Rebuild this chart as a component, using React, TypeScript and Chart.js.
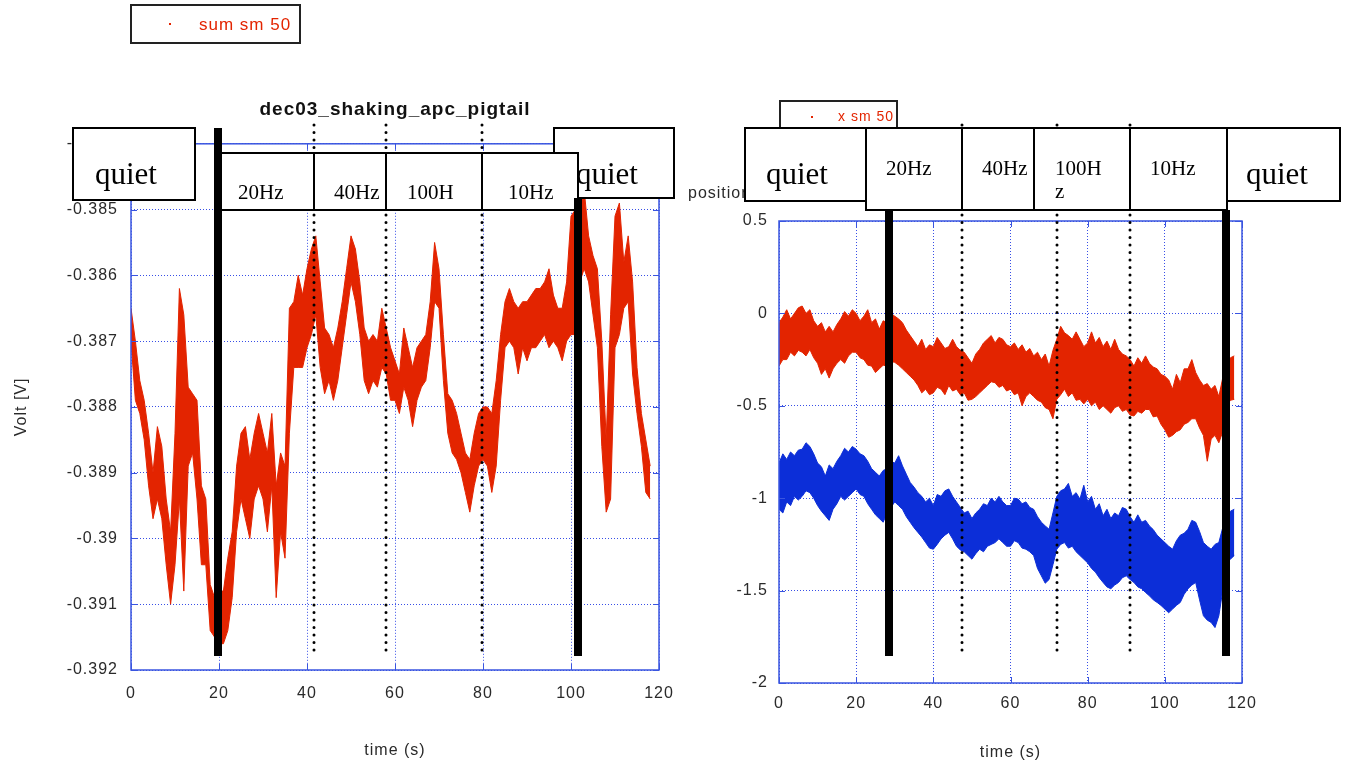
import React, { useEffect, useRef } from 'react';
import { Chart, registerables } from 'chart.js';

Chart.register(...registerables);

// ---------- data ----------
// one envelope sample (upper / lower edge of the trace) per second
const TIME_S = Array.from({ length: 119 }, (_, i) => i);

// "sum sm 50" signal, millivolts
const SUM_HI_MV = [
  -386.5, -387.0, -387.6, -387.9, -388.4, -389.0, -388.3, -388.6, -389.4, -389.9,
  -388.4, -386.2, -386.6, -387.7, -387.8, -387.9, -389.2, -389.4, -390.7, -390.9,
  -390.8, -390.8, -390.3, -389.9, -388.9, -388.4, -388.3, -388.8, -388.4, -388.1,
  -388.4, -388.7, -388.1, -389.2, -388.7, -388.9, -386.5, -386.4, -386.0, -386.3,
  -385.9, -385.6, -385.4, -386.1, -386.8, -386.9, -387.1, -386.8, -386.4, -385.9,
  -385.4, -385.6, -386.1, -386.8, -387.0, -386.9, -387.0, -386.5, -386.8, -387.1,
  -387.3, -387.5, -386.8, -387.1, -387.4, -387.1, -387.0, -386.9, -386.4, -385.5,
  -385.9, -386.9, -387.8, -387.9, -388.1, -388.4, -388.7, -388.8, -388.4, -388.1,
  -388.0, -388.0, -388.1, -387.6, -386.9, -386.4, -386.2, -386.4, -386.5, -386.4,
  -386.4, -386.3, -386.2, -386.2, -386.1, -385.9, -386.3, -386.5, -386.5, -386.1,
  -385.1, -385.0, -384.8, -384.7, -385.4, -385.7, -385.9, -387.0, -388.5, -386.6,
  -385.1, -384.9, -385.8, -385.4, -386.1, -387.4, -388.1, -388.5, -388.9,
];
const SUM_LO_MV = [
  -387.0, -387.9, -388.1, -388.5, -389.2, -389.7, -389.4, -389.7, -390.4, -391.0,
  -390.4, -389.4, -390.8, -388.9, -388.7, -389.4, -390.4, -390.4, -391.4, -391.5,
  -391.6, -391.6, -391.4, -390.9, -389.9, -389.4, -389.7, -390.0, -389.4, -389.2,
  -389.4, -389.9, -389.2, -390.9, -389.9, -390.3, -388.4, -387.4, -387.4, -387.4,
  -387.1, -386.9, -386.6, -387.4, -387.8, -387.6, -387.9, -387.6, -387.1, -386.6,
  -386.1, -386.4, -386.9, -387.6, -387.8, -387.6, -387.7, -387.4, -387.5, -387.9,
  -387.9, -388.1, -387.7, -387.9, -388.3, -387.9, -387.7, -387.6, -387.1, -386.4,
  -386.5, -387.6, -388.4, -388.7, -388.8, -389.0, -389.3, -389.6, -389.2, -388.9,
  -388.8, -388.9, -389.3, -388.9, -387.9, -387.1, -387.0, -387.1, -387.5, -387.1,
  -387.3, -387.1, -387.1, -387.0, -386.9, -387.1, -387.0, -387.1, -387.3, -387.0,
  -386.9, -386.9, -386.1, -385.9, -386.1, -386.6, -387.1, -388.6, -389.6, -389.4,
  -387.1, -386.9, -386.5, -386.4, -387.5, -388.1, -388.6, -389.3, -389.4,
];

// position traces ("x sm 50" in red, second channel in blue)
const POS_RED_HI = [
  -0.05, -0.02, 0.02, -0.03, 0.0, 0.03, 0.04, 0.0, 0.02, -0.04,
  -0.07, -0.05, -0.10, -0.07, -0.10, -0.06, -0.03, 0.01, -0.015, 0.02,
  0.0, -0.04, -0.015, 0.02, -0.05, -0.03, -0.085, -0.04, -0.05, 0.0,
  -0.015, -0.03, -0.05, -0.09, -0.12, -0.15, -0.18, -0.14, -0.195, -0.17,
  -0.18, -0.13, -0.16, -0.19, -0.18, -0.14, -0.18, -0.20, -0.21, -0.24,
  -0.27, -0.22, -0.195, -0.16, -0.14, -0.12, -0.16, -0.13, -0.14, -0.17,
  -0.18, -0.16, -0.195, -0.17, -0.21, -0.19, -0.23, -0.21, -0.25, -0.22,
  -0.285, -0.20, -0.14, -0.07, -0.105, -0.12, -0.14, -0.10, -0.14, -0.18,
  -0.16, -0.10, -0.16, -0.13, -0.18, -0.15, -0.195, -0.14, -0.195, -0.22,
  -0.23, -0.25, -0.285, -0.24, -0.27, -0.23, -0.27, -0.29, -0.30, -0.33,
  -0.34, -0.36, -0.41, -0.33, -0.375, -0.30, -0.30, -0.25, -0.32, -0.36,
  -0.39, -0.38, -0.41, -0.39, -0.45, -0.35, -0.27, -0.24, -0.23,
];
const POS_RED_LO = [
  -0.285, -0.25, -0.25, -0.21, -0.23, -0.20, -0.21, -0.23, -0.195, -0.24,
  -0.27, -0.33, -0.30, -0.35, -0.30, -0.27, -0.25, -0.27, -0.23, -0.21,
  -0.21, -0.24, -0.25, -0.28, -0.285, -0.32, -0.30, -0.28, -0.285, -0.26,
  -0.265, -0.28, -0.30, -0.32, -0.34, -0.36, -0.39, -0.43, -0.41, -0.44,
  -0.43, -0.40, -0.41, -0.44, -0.39, -0.42, -0.41, -0.44, -0.43, -0.47,
  -0.465, -0.45, -0.43, -0.41, -0.39, -0.37, -0.375, -0.40, -0.39, -0.42,
  -0.41, -0.44, -0.43, -0.50, -0.45, -0.43, -0.45, -0.47, -0.48, -0.51,
  -0.52, -0.57, -0.465, -0.44, -0.41, -0.45, -0.43, -0.47, -0.465, -0.49,
  -0.465, -0.50, -0.48, -0.52, -0.50, -0.52, -0.54, -0.51, -0.50, -0.53,
  -0.52, -0.55, -0.555, -0.53, -0.54, -0.52, -0.52, -0.56, -0.555, -0.60,
  -0.63, -0.67, -0.66, -0.64, -0.63, -0.60, -0.59, -0.57, -0.57, -0.62,
  -0.66, -0.80, -0.68, -0.66, -0.70, -0.64, -0.50, -0.47, -0.465,
];
const POS_BLUE_HI = [
  -0.81, -0.76, -0.79, -0.75, -0.77, -0.74, -0.735, -0.70, -0.72, -0.76,
  -0.81, -0.83, -0.88, -0.82, -0.84, -0.80, -0.77, -0.73, -0.75, -0.72,
  -0.735, -0.76, -0.77, -0.80, -0.84, -0.86, -0.88, -0.85, -0.84, -0.80,
  -0.81, -0.77, -0.825, -0.87, -0.915, -0.94, -0.97, -0.99, -1.02, -1.00,
  -1.04, -0.98, -0.99, -0.96, -0.95, -0.99, -1.02, -1.05, -1.08, -1.07,
  -1.11, -1.08, -1.06, -1.03, -1.04, -1.00, -1.02, -0.99, -1.02, -1.04,
  -1.04, -1.00, -1.005, -1.03, -1.02, -1.05, -1.06, -1.10, -1.13, -1.15,
  -1.168, -1.08, -0.99, -0.96, -0.95, -0.92, -0.99, -0.97, -1.005, -0.93,
  -1.02, -0.99, -1.06, -1.03, -1.095, -1.06, -1.11, -1.08, -1.095, -1.05,
  -1.06, -1.10, -1.13, -1.09, -1.13, -1.12, -1.15, -1.17, -1.20, -1.22,
  -1.24, -1.26, -1.276, -1.23, -1.20, -1.19, -1.168, -1.12, -1.13, -1.18,
  -1.24, -1.26, -1.276, -1.25, -1.24, -1.16, -1.095, -1.07, -1.06,
];
const POS_BLUE_LO = [
  -1.06, -1.08, -1.02, -1.04, -0.99, -1.01, -0.99, -0.96, -0.97, -1.00,
  -1.04, -1.07, -1.095, -1.12, -1.06, -1.03, -0.99, -1.01, -0.99, -0.97,
  -0.95, -0.98, -0.99, -1.03, -1.06, -1.09, -1.11, -1.13, -1.08, -1.05,
  -1.02, -1.04, -1.06, -1.10, -1.13, -1.16, -1.185, -1.21, -1.24, -1.27,
  -1.276, -1.25, -1.22, -1.20, -1.185, -1.22, -1.26, -1.28, -1.29, -1.31,
  -1.33, -1.30, -1.276, -1.29, -1.26, -1.25, -1.24, -1.22, -1.24, -1.26,
  -1.26, -1.23, -1.24, -1.27, -1.276, -1.29, -1.31, -1.38, -1.42, -1.46,
  -1.44, -1.36, -1.276, -1.25, -1.24, -1.27, -1.26, -1.29, -1.31, -1.33,
  -1.35, -1.38, -1.40, -1.43, -1.456, -1.48, -1.49, -1.47, -1.456, -1.43,
  -1.42, -1.44, -1.456, -1.48, -1.49, -1.51, -1.528, -1.55, -1.564, -1.58,
  -1.60, -1.62, -1.60, -1.58, -1.564, -1.52, -1.49, -1.47, -1.456, -1.55,
  -1.636, -1.66, -1.672, -1.70, -1.636, -1.50, -1.31, -1.33, -1.31,
];

// excitation phases (seconds): shaker on/off and frequency changes
const SUM_ON_OFF_S = [19.77, 101.6];
const SUM_STEPS_S = [41.6, 57.95, 79.77];
const POS_ON_OFF_S = [28.5, 115.9];
const POS_STEPS_S = [47.4, 72.1, 91.0];
const PHASE_LABELS = ['20Hz', '40Hz', '100H', '10Hz'];

// axis ticks
const TIME_TICKS = { min: 0, max: 120, step: 20 };
const VOLT_TICKS = { min: -0.392, max: -0.384, step: 0.001 };
const POS_TICKS = { min: -2, max: 0.5, step: 0.5 };

// ---------- styles ----------
const SANS = '"Liberation Sans", Arial, sans-serif';
const SERIF = '"Liberation Serif", "Times New Roman", serif';
const RED = '#e32400';
const BLUE = '#0c2ed8';
const GRID = 'rgba(45, 70, 230, 0.95)';
const FRAME = '#3a55e0';
const INK = '#2a2a2a';

type NoteText = { at: number; y: number; text: string; size: number };
type NoteBox = { from: number; to: number; top: number; bottom: number; dividers?: number[]; texts: NoteText[] };
type Notes = {
  offsetX: number;
  legend: { box: number[]; dot: number[]; text: number[]; size: number };
  caption?: { text: string; x: number; y: number; size: number };
  dotted: { times: number[]; top: number; bottom: number };
  boxes: NoteBox[];
  solid: { t: number; top: number; bottom: number }[];
};

const SUM_NOTES: Notes = {
  offsetX: 0,
  legend: { box: [131, 5, 300, 43], dot: [170, 24], text: [199, 25], size: 17 },
  dotted: { times: SUM_STEPS_S, top: 125, bottom: 655 },
  boxes: [
    { from: -13.2, to: 14.5, top: 128, bottom: 200, texts: [{ at: -8.2, y: 184, text: 'quiet', size: 31 }] },
    { from: 96.1, to: 123.4, top: 128, bottom: 198, texts: [{ at: 101.1, y: 184, text: 'quiet', size: 31 }] },
    {
      from: 19.3, to: 101.6, top: 153, bottom: 210, dividers: SUM_STEPS_S,
      texts: [
        { at: 24.3, y: 199, text: PHASE_LABELS[0], size: 21 },
        { at: 46.1, y: 199, text: PHASE_LABELS[1], size: 21 },
        { at: 62.7, y: 199, text: PHASE_LABELS[2], size: 21 },
        { at: 85.7, y: 199, text: PHASE_LABELS[3], size: 21 },
      ],
    },
  ],
  solid: [
    { t: SUM_ON_OFF_S[0], top: 128, bottom: 656 },
    { t: SUM_ON_OFF_S[1], top: 198, bottom: 656 },
  ],
};

const POS_NOTES: Notes = {
  offsetX: 676,
  legend: { box: [780, 101, 897, 136], dot: [812, 117], text: [838, 117], size: 14 },
  caption: { text: 'position [mm]', x: 688, y: 194, size: 16 },
  dotted: { times: POS_STEPS_S, top: 125, bottom: 652 },
  boxes: [
    { from: -8.8, to: 22.55, top: 128, bottom: 201, texts: [{ at: -3.37, y: 184, text: 'quiet', size: 31 }] },
    {
      from: 22.55, to: 116.1, top: 128, bottom: 210, dividers: [47.4, 66.1, 91.0],
      texts: [
        { at: 27.7, y: 175, text: PHASE_LABELS[0], size: 21 },
        { at: 52.6, y: 175, text: PHASE_LABELS[1], size: 21 },
        { at: 71.5, y: 175, text: PHASE_LABELS[2], size: 21 },
        { at: 71.5, y: 198, text: 'z', size: 21 },
        { at: 96.2, y: 175, text: PHASE_LABELS[3], size: 21 },
      ],
    },
    { from: 116.1, to: 145.4, top: 128, bottom: 201, texts: [{ at: 121.0, y: 184, text: 'quiet', size: 31 }] },
  ],
  solid: [
    { t: POS_ON_OFF_S[0], top: 210, bottom: 656 },
    { t: POS_ON_OFF_S[1], top: 210, bottom: 656 },
  ],
};

// ---------- drawing helpers ----------
const fmtTick = (v: any) => String(parseFloat(Number(v).toFixed(4)));

function notesPlugin(notes: Notes) {
  return {
    id: 'notes',
    beforeUpdate(chart: any) {
      chart.ctx.letterSpacing = '1px';
    },
    beforeDraw(chart: any) {
      const ctx = chart.ctx;
      ctx.letterSpacing = '1px';
      ctx.save();
      ctx.fillStyle = '#fff';
      ctx.fillRect(0, 0, chart.width, chart.height);
      ctx.restore();
    },
    afterDatasetsDraw(chart: any) {
      const { ctx, chartArea: a, scales } = chart;
      ctx.save();
      ctx.strokeStyle = FRAME;
      ctx.lineWidth = 1;
      ctx.beginPath();
      for (const t of scales.x.ticks) {
        const px = Math.round(scales.x.getPixelForValue(t.value)) + 0.5;
        ctx.moveTo(px, a.bottom);
        ctx.lineTo(px, a.bottom - 6);
        ctx.moveTo(px, a.top);
        ctx.lineTo(px, a.top + 6);
      }
      for (const t of scales.y.ticks) {
        const py = Math.round(scales.y.getPixelForValue(t.value)) + 0.5;
        ctx.moveTo(a.left, py);
        ctx.lineTo(a.left + 6, py);
        ctx.moveTo(a.right, py);
        ctx.lineTo(a.right - 6, py);
      }
      ctx.stroke();
      ctx.lineWidth = 1.5;
      ctx.strokeRect(a.left, a.top, a.right - a.left, a.bottom - a.top);
      ctx.restore();
    },
    afterDraw(chart: any) {
      const ctx = chart.ctx;
      const xs = chart.scales.x;
      const X = (t: number) => Math.round(xs.getPixelForValue(t));
      const ox = notes.offsetX;
      const first = chart.data.datasets[0];
      ctx.save();

      // legend
      const [l, t, r, b] = notes.legend.box;
      ctx.fillStyle = '#fff';
      ctx.fillRect(l - ox, t, r - l, b - t);
      ctx.strokeStyle = '#222';
      ctx.lineWidth = 2;
      ctx.strokeRect(l - ox, t, r - l, b - t);
      ctx.fillStyle = first.borderColor;
      ctx.fillRect(notes.legend.dot[0] - ox - 1, notes.legend.dot[1] - 1, 2, 2);
      ctx.letterSpacing = '1px';
      ctx.font = `${notes.legend.size}px ${SANS}`;
      ctx.textAlign = 'left';
      ctx.textBaseline = 'middle';
      ctx.fillText(first.label, notes.legend.text[0] - ox, notes.legend.text[1]);

      // horizontal axis caption
      if (notes.caption) {
        ctx.fillStyle = INK;
        ctx.font = `${notes.caption.size}px ${SANS}`;
        ctx.fillText(notes.caption.text, notes.caption.x - ox, notes.caption.y);
      }

      // dotted phase markers
      ctx.strokeStyle = '#000';
      ctx.lineWidth = 3;
      ctx.lineCap = 'round';
      ctx.setLineDash([0, 7.5]);
      for (const tm of notes.dotted.times) {
        ctx.beginPath();
        ctx.moveTo(X(tm), notes.dotted.top);
        ctx.lineTo(X(tm), notes.dotted.bottom);
        ctx.stroke();
      }
      ctx.setLineDash([]);
      ctx.lineCap = 'butt';

      // label boxes
      ctx.letterSpacing = '0px';
      ctx.textBaseline = 'alphabetic';
      for (const bx of notes.boxes) {
        const x0 = X(bx.from);
        const x1 = X(bx.to);
        ctx.fillStyle = '#fff';
        ctx.fillRect(x0, bx.top, x1 - x0, bx.bottom - bx.top);
        ctx.strokeStyle = '#000';
        ctx.lineWidth = 2;
        ctx.strokeRect(x0, bx.top, x1 - x0, bx.bottom - bx.top);
        if (bx.dividers) {
          ctx.beginPath();
          for (const d of bx.dividers) {
            ctx.moveTo(X(d), bx.top);
            ctx.lineTo(X(d), bx.bottom);
          }
          ctx.stroke();
        }
        ctx.fillStyle = '#000';
        for (const tx of bx.texts) {
          ctx.font = `${tx.size}px ${SERIF}`;
          ctx.fillText(tx.text, X(tx.at), tx.y);
        }
      }

      // shaker on / off
      ctx.fillStyle = '#000';
      for (const s of notes.solid) {
        ctx.fillRect(X(s.t) - 4, s.top, 8, s.bottom - s.top);
      }
      ctx.restore();
    },
  };
}

const points = (ys: number[], scale = 1) => TIME_S.map((t, i) => ({ x: t, y: ys[i] * scale }));

const band = (label: string, ys: number[], color: string, upper: boolean, scale = 1) => ({
  label,
  data: points(ys, scale),
  borderColor: color,
  backgroundColor: color,
  borderWidth: 1,
  pointRadius: 0,
  tension: 0,
  fill: upper ? '+1' : false,
});

const tickFont = { family: SANS, size: 16 };

function axes(y: { min: number; max: number; step: number }, o: any) {
  return {
    x: {
      type: 'linear',
      min: TIME_TICKS.min,
      max: TIME_TICKS.max,
      ticks: { stepSize: TIME_TICKS.step, padding: o.xPad, color: INK, font: tickFont, maxRotation: 0 },
      grid: { color: GRID, lineWidth: 1, drawTicks: false },
      border: { display: false, dash: [1, 2] },
      title: { display: true, text: 'time (s)', color: INK, font: tickFont, padding: { top: 0, bottom: o.xTitlePad } },
      afterFit: (s: any) => {
        s.height = o.xHeight;
        s.paddingLeft = 0;
        s.paddingRight = 0;
      },
    },
    y: {
      type: 'linear',
      min: y.min,
      max: y.max,
      ticks: { stepSize: y.step, padding: o.yPad, color: INK, font: tickFont, callback: fmtTick },
      grid: { color: GRID, lineWidth: 1, drawTicks: false },
      border: { display: false, dash: [1, 2] },
      title: o.yTitle
        ? { display: true, text: o.yTitle, color: INK, font: tickFont, padding: { top: 12, bottom: 0 } }
        : { display: false },
      afterFit: (s: any) => {
        s.width = o.yWidth;
        s.paddingTop = 0;
        s.paddingBottom = 0;
      },
    },
  };
}

function sumConfig(): any {
  return {
    type: 'line',
    data: {
      datasets: [
        band('sum sm 50', SUM_HI_MV, RED, true, 0.001),
        band('sum sm 50 (low)', SUM_LO_MV, RED, false, 0.001),
      ],
    },
    options: {
      animation: false,
      responsive: false,
      events: [],
      layout: { padding: { left: 0, right: 17, top: 0, bottom: 0 } },
      plugins: {
        legend: { display: false },
        tooltip: { enabled: false },
        title: {
          display: true,
          text: 'dec03_shaking_apc_pigtail',
          fullSize: false,
          color: '#111',
          font: { family: SANS, size: 19, weight: 'bold' },
          padding: { top: 98, bottom: 23 },
        },
      },
      scales: axes(VOLT_TICKS, { xPad: 14, xTitlePad: 6, xHeight: 96, yPad: 13, yWidth: 131, yTitle: 'Volt [V]' }),
    },
    plugins: [notesPlugin(SUM_NOTES)],
  };
}

function posConfig(): any {
  return {
    type: 'line',
    data: {
      datasets: [
        band('x sm 50', POS_RED_HI, RED, true),
        band('x sm 50 (low)', POS_RED_LO, RED, false),
        band('y sm 50', POS_BLUE_HI, BLUE, true),
        band('y sm 50 (low)', POS_BLUE_LO, BLUE, false),
      ],
    },
    options: {
      animation: false,
      responsive: false,
      events: [],
      layout: { padding: { left: 0, right: 110, top: 221, bottom: 0 } },
      plugins: { legend: { display: false }, tooltip: { enabled: false } },
      scales: axes(POS_TICKS, { xPad: 11, xTitlePad: 4, xHeight: 83, yPad: 11, yWidth: 103 }),
    },
    plugins: [notesPlugin(POS_NOTES)],
  };
}

function ChartCanvas({ left, width, build }: { left: number; width: number; build: () => any }) {
  const ref = useRef<HTMLCanvasElement>(null);
  useEffect(() => {
    const chart = new Chart(ref.current as HTMLCanvasElement, build());
    return () => chart.destroy();
  }, [build]);
  return (
    <canvas
      ref={ref}
      width={width}
      height={766}
      style={{ position: 'absolute', left, top: 0, width, height: 766, display: 'block' }}
    />
  );
}

export default function App() {
  return (
    <div
      style={{
        position: 'fixed',
        left: 0,
        top: 0,
        width: 1352,
        height: 766,
        background: '#fff',
        overflow: 'hidden',
      }}
    >
      <ChartCanvas left={0} width={676} build={sumConfig} />
      <ChartCanvas left={676} width={676} build={posConfig} />
    </div>
  );
}
